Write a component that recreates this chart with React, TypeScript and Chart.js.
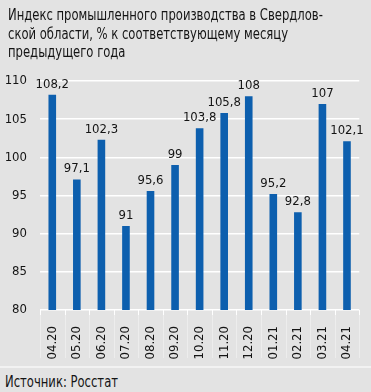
import React, { useEffect, useRef } from "react";
import { Chart, registerables } from "chart.js";

Chart.register(...registerables);

const titleLines = [
  "Индекс промышленного производства в Свердлов-",
  "ской области, % к соответствующему месяцу",
  "предыдущего года",
];
const sourceText = "Источник: Росстат";
const categories = ["04.20", "05.20", "06.20", "07.20", "08.20", "09.20", "10.20", "11.20", "12.20", "01.21", "02.21", "03.21", "04.21"];
const values = [108.2, 97.1, 102.3, 91, 95.6, 99, 103.8, 105.8, 108, 95.2, 92.8, 107, 102.1];
const yMin = 80;
const yMax = 110;
const yStep = 5;

const FONT = '"DejaVu Sans Condensed", "DejaVu Sans", sans-serif';
const BG = "#e3e3e3";
const BAR = "#0d5fae";
const TEXT = "#141414";

const labelPlugin = {
  id: "valueLabels",
  beforeDatasetsDraw(chart: any) {
    const { ctx, scales } = chart;
    const x = scales.x;
    const y = scales.y;
    const base = y.getPixelForValue(yMin);
    const half = (x.getPixelForValue(1) - x.getPixelForValue(0)) / 2;
    ctx.save();
    for (let i = 0; i <= categories.length; i++) {
      const px = Math.round(x.getPixelForValue(i) - half) + 0.5;
      ctx.strokeStyle = "rgba(255,255,255,0.35)";
      ctx.lineWidth = 1;
      ctx.beginPath();
      ctx.moveTo(px, base);
      ctx.lineTo(px, base + 48);
      ctx.stroke();
      ctx.strokeStyle = "#ffffff";
      ctx.beginPath();
      ctx.moveTo(px, base);
      ctx.lineTo(px, base + 5);
      ctx.stroke();
    }
    ctx.restore();
  },
  afterDatasetsDraw(chart: any) {
    const { ctx } = chart;
    const meta = chart.getDatasetMeta(0);
    ctx.save();
    ctx.fillStyle = TEXT;
    ctx.font = `13px ${FONT}`;
    ctx.textAlign = "center";
    ctx.textBaseline = "bottom";
    meta.data.forEach((bar: any, i: number) => {
      ctx.fillText(String(values[i]).replace(".", ","), bar.x, bar.y - 4);
    });
    ctx.restore();
  },
};

export default function App() {
  const ref = useRef<HTMLCanvasElement | null>(null);

  useEffect(() => {
    document.body.style.margin = "0";
    const canvas = ref.current!;
    const chart = new Chart(canvas, {
      type: "bar",
      data: {
        labels: categories,
        datasets: [
          {
            data: values,
            backgroundColor: BAR,
            borderWidth: 0,
            barPercentage: 0.31,
            categoryPercentage: 1,
          },
        ],
      },
      options: {
        responsive: false,
        animation: false,
        devicePixelRatio: 1,
        layout: { padding: { top: 81, right: 11, left: 0, bottom: 0 } },
        plugins: {
          legend: { display: false },
          tooltip: { enabled: false },
          title: { display: false },
        },
        scales: {
          x: {
            grid: { display: false },
            border: { display: false },
            ticks: {
              autoSkip: false,
              maxRotation: 90,
              minRotation: 90,
              padding: 8,
              color: TEXT,
              font: { family: FONT, size: 13 },
            },
            afterFit(scale: any) {
              scale.height = 56;
            },
          },
          y: {
            min: yMin,
            max: yMax,
            grid: { color: "#ffffff", lineWidth: 1.5, drawTicks: false },
            border: { display: false },
            ticks: {
              stepSize: yStep,
              padding: 13,
              color: TEXT,
              font: { family: FONT, size: 13 },
            },
            afterFit(scale: any) {
              scale.width = 40;
            },
          },
        },
      },
      plugins: [labelPlugin],
    });
    return () => chart.destroy();
  }, []);

  return (
    <div
      style={{
        position: "fixed",
        left: 0,
        top: 0,
        width: 371,
        height: 392,
        background: BG,
        overflow: "hidden",
        fontFamily: FONT,
        color: TEXT,
      }}
    >
      <canvas ref={ref} width={371} height={366} style={{ position: "absolute", left: 0, top: 0, width: 371, height: 366 }} />
      <div
        style={{
          position: "absolute",
          left: 8,
          top: 6,
          fontSize: 15,
          lineHeight: "18.5px",
          whiteSpace: "nowrap",
          transform: "scaleX(0.86)",
          transformOrigin: "left top",
        }}
      >
        {titleLines.map((l, i) => (
          <div key={i}>{l}</div>
        ))}
      </div>
      <div style={{ position: "absolute", left: 0, top: 366, width: 371, height: 2, background: "#f2f2f2" }} />
      <div
        style={{
          position: "absolute",
          left: 5,
          top: 373,
          fontSize: 15,
          lineHeight: "18px",
          whiteSpace: "nowrap",
          transform: "scaleX(0.86)",
          transformOrigin: "left top",
        }}
      >
        {sourceText}
      </div>
    </div>
  );
}
